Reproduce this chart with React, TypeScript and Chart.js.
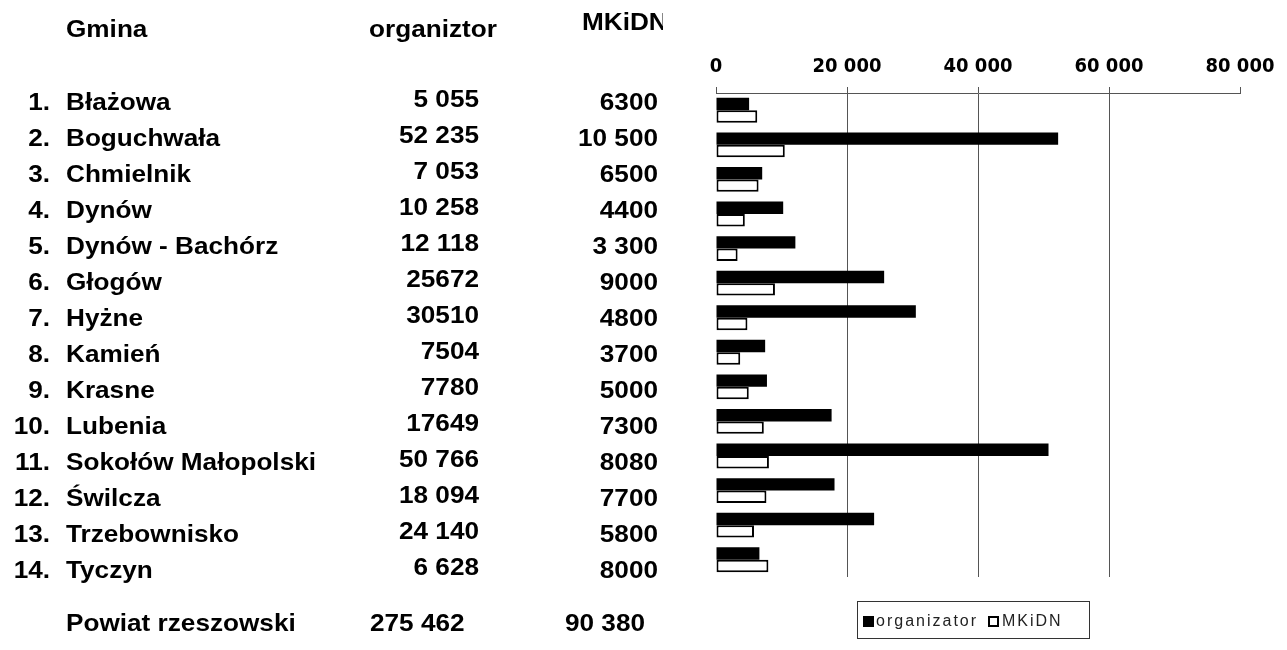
import React, { useEffect, useRef } from "react";
import { Chart, registerables } from "chart.js";

Chart.register(...registerables);

const gminy = [
  "Błażowa",
  "Boguchwała",
  "Chmielnik",
  "Dynów",
  "Dynów - Bachórz",
  "Głogów",
  "Hyżne",
  "Kamień",
  "Krasne",
  "Lubenia",
  "Sokołów Małopolski",
  "Świlcza",
  "Trzebownisko",
  "Tyczyn",
];

const organizatorValues = [5055, 52235, 7053, 10258, 12118, 25672, 30510, 7504, 7780, 17649, 50766, 18094, 24140, 6628];
const mkidnValues = [6300, 10500, 6500, 4400, 3300, 9000, 4800, 3700, 5000, 7300, 8080, 7700, 5800, 8000];

const organizatorText = ["5 055", "52 235", "7 053", "10 258", "12 118", "25672", "30510", "7504", "7780", "17649", "50 766", "18 094", "24 140", "6 628"];
const mkidnText = ["6300", "10 500", "6500", "4400", "3 300", "9000", "4800", "3700", "5000", "7300", "8080", "7700", "5800", "8000"];

const headers = ["Gmina", "organiztor", "MKiDN"];
const totalRow = ["Powiat rzeszowski", "275 462", "90 380"];
const seriesLabels = ["organizator", "MKiDN"];
const xTicks = [0, 20000, 40000, 60000, 80000];

const formatThousands = (v: number) => String(v).replace(/\B(?=(\d{3})+(?!\d))/g, " ");

const TABLE_FONT = 'bold 24px "Liberation Sans", Arial, sans-serif';
const SX = 1.09;

const tablePlugin = {
  id: "tableText",
  afterDraw(chart: any) {
    const ctx: CanvasRenderingContext2D = chart.ctx;
    const draw = (text: string, x: number, y: number, align: CanvasTextAlign) => {
      ctx.save();
      ctx.font = TABLE_FONT;
      ctx.fillStyle = "#000";
      ctx.textBaseline = "middle";
      ctx.textAlign = align;
      ctx.translate(x, y);
      ctx.scale(SX, 1);
      ctx.fillText(text, 0, 0);
      ctx.restore();
    };
    // headers
    draw(headers[0], 66, 30, "left");
    draw(headers[1], 369, 30, "left");
    ctx.save();
    ctx.beginPath();
    ctx.rect(0, 0, 663, 60);
    ctx.clip();
    draw(headers[2], 582, 23, "left");
    ctx.restore();

    // rows
    const rowStart = 103;
    const rowStep = 36;
    gminy.forEach((name, i) => {
      const y = rowStart + i * rowStep;
      draw(`${i + 1}.`, 50, y, "right");
      draw(name, 66, y, "left");
      draw(organizatorText[i], 479, y - 3, "right");
      draw(mkidnText[i], 658, y, "right");
    });

    // totals
    draw(totalRow[0], 66, 624, "left");
    draw(totalRow[1], 370, 624, "left");
    draw(totalRow[2], 565, 624, "left");

    // legend box
    ctx.save();
    ctx.strokeStyle = "#333";
    ctx.lineWidth = 1;
    ctx.strokeRect(857.5, 601.5, 232, 37);
    const ds = chart.data.datasets;
    ctx.font = '16px "Liberation Sans", Arial, sans-serif';
    (ctx as any).letterSpacing = "2px";
    ctx.textBaseline = "middle";
    ctx.textAlign = "left";
    const items = [
      { x: 863, tx: 876 },
      { x: 988, tx: 1002 },
    ];
    items.forEach((it, i) => {
      const d = ds[i];
      if (d.borderWidth) {
        ctx.fillStyle = d.borderColor;
        ctx.fillRect(it.x, 616, 11, 11);
        ctx.fillStyle = d.backgroundColor;
        ctx.fillRect(it.x + 2, 618, 7, 7);
      } else {
        ctx.fillStyle = d.backgroundColor;
        ctx.fillRect(it.x, 616, 11, 11);
      }
      ctx.fillStyle = "#222";
      ctx.fillText(d.label, it.tx, 622);
    });
    ctx.restore();
  },
};

export default function App() {
  const ref = useRef<HTMLCanvasElement | null>(null);

  useEffect(() => {
    if (!ref.current) return;
    const chart = new Chart(ref.current, {
      type: "bar",
      data: {
        labels: gminy,
        datasets: [
          {
            label: seriesLabels[0],
            data: organizatorValues,
            backgroundColor: "#000",
            borderWidth: 0,
          },
          {
            label: seriesLabels[1],
            data: mkidnValues,
            backgroundColor: "#fff",
            borderColor: "#000",
            borderWidth: 2,
            borderSkipped: false,
          },
        ],
      },
      options: {
        indexAxis: "y",
        animation: false,
        responsive: false,
        devicePixelRatio: 1,
        layout: { padding: { left: 716, right: 47, top: 0, bottom: 73 } },
        datasets: { bar: { categoryPercentage: 0.72, barPercentage: 1 } },
        plugins: { legend: { display: false }, tooltip: { enabled: false } },
        scales: {
          x: {
            position: "top",
            min: xTicks[0],
            max: xTicks[xTicks.length - 1],
            afterBuildTicks: (scale: any) => {
              scale.ticks = xTicks.map((v) => ({ value: v }));
            },
            afterFit: (scale: any) => {
              scale.height = 93;
            },
            ticks: {
              padding: 8,
              color: "#000",
              font: { family: '"DejaVu Sans Condensed", "DejaVu Sans", sans-serif', weight: "bold", size: 20 },
              callback: (v: any) => formatThousands(Number(v)),
            },
            grid: {
              color: (c: any) =>
                c.tick && (c.tick.value === xTicks[0] || c.tick.value === xTicks[xTicks.length - 1]) ? "rgba(0,0,0,0)" : "#555",
              tickColor: "#555",
              tickLength: 6,
              lineWidth: 1,
            },
            border: { display: true, color: "#555", width: 1 },
          },
          y: { display: false, offset: true },
        },
      } as any,
      plugins: [tablePlugin],
    });
    return () => chart.destroy();
  }, []);

  return (
    <div style={{ position: "fixed", left: 0, top: 0, width: 1287, height: 650, background: "#fff" }}>
      <canvas ref={ref} width={1287} height={650} style={{ display: "block" }} />
    </div>
  );
}
